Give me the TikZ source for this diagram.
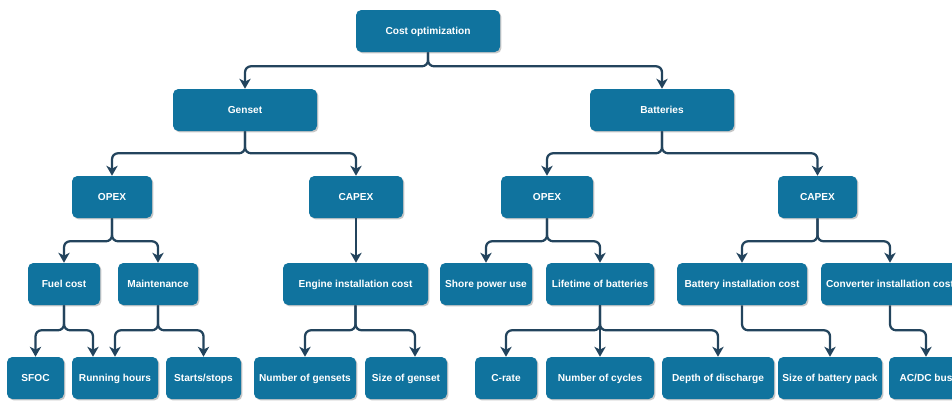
\documentclass[tikz,border=0pt]{standalone}
\usepackage{fontspec}
\setmainfont{Liberation Sans}
\usepackage{xcolor}
\usepackage{tikz}
\usetikzlibrary{arrows.meta,positioning,shadows}

\definecolor{boxblue}{HTML}{10739E}
\definecolor{linkblue}{HTML}{23445D}

\begin{document}
\begin{tikzpicture}[
  x=0.75pt, y=-0.75pt,
  font=\fontsize{7.6pt}{9pt}\selectfont\bfseries,
  box/.style={fill=boxblue, text=white, rounded corners=4pt, align=center,
    minimum width=#1*0.75pt, minimum height=31.5pt, inner sep=0pt,
    text height=6.5pt, text depth=1pt,
    drop shadow={shadow xshift=1.1pt, shadow yshift=-1.1pt, fill=black, opacity=0.22}},
  arrow/.style={-{Stealth[length=7.5pt, width=8.5pt, inset=2.2pt]}, line width=1.7pt,
    draw=linkblue, rounded corners=4.5pt}
]
\useasboundingbox (0,0) rectangle (952,400);

% level 0 and 1
\node[box=144] (costopt) at (428,31) {Cost optimization};
\node[box=144] (genset) at (245,110) {Genset};
\node[box=144] (batteries) at (662,110) {Batteries};

% level 2
\node[box=80] (opexg) at (112,197) {OPEX};
\node[box=94] (capexg) at (356,197) {CAPEX};
\node[box=92] (opexb) at (547,197) {OPEX};
\node[box=79] (capexb) at (817.5,197) {CAPEX};

% level 3
\node[box=72] (fuel) at (64,284) {Fuel cost};
\node[box=80] (maint) at (158,284) {Maintenance};
\node[box=145] (engine) at (355.5,284) {Engine installation cost};
\node[box=92] (shore) at (486,284) {Shore power use};
\node[box=108] (lifetime) at (600,284) {Lifetime of batteries};
\node[box=130] (battinst) at (742,284) {Battery installation cost};
\node[box=138] (conv) at (890,284) {Converter installation cost};

% level 4
\node[box=57] (sfoc) at (35.5,378) {SFOC};
\node[box=86] (running) at (115,378) {Running hours};
\node[box=75] (starts) at (203.5,378) {Starts/stops};
\node[box=102] (ngensets) at (305,378) {Number of gensets};
\node[box=82] (sizegen) at (406,378) {Size of genset};
\node[box=62] (crate) at (506,378) {C-rate};
\node[box=108] (cycles) at (600,378) {Number of cycles};
\node[box=112] (dod) at (718,378) {Depth of discharge};
\node[box=104] (pack) at (830,378) {Size of battery pack};
\node[box=74] (acdc) at (926,378) {AC/DC bus};

% connectors
\draw[arrow] (costopt.south) -- ++(0,14) -| (genset.north);
\draw[arrow] (costopt.south) -- ++(0,14) -| (batteries.north);
\draw[arrow] (genset.south) -- ++(0,22) -| (opexg.north);
\draw[arrow] (genset.south) -- ++(0,22) -| (capexg.north);
\draw[arrow] (batteries.south) -- ++(0,22) -| (opexb.north);
\draw[arrow] (batteries.south) -- ++(0,22) -| (capexb.north);
\draw[arrow] (opexg.south) -- ++(0,23) -| (fuel.north);
\draw[arrow] (opexg.south) -- ++(0,23) -| (maint.north);
\draw[arrow] (capexg.south) -- (engine.north -| capexg.south);
\draw[arrow] (opexb.south) -- ++(0,23) -| (shore.north);
\draw[arrow] (opexb.south) -- ++(0,23) -| (lifetime.north);
\draw[arrow] (capexb.south) -- ++(0,23) -| (battinst.north);
\draw[arrow] (capexb.south) -- ++(0,23) -| (conv.north);
\draw[arrow] (fuel.south) -- ++(0,25) -| (sfoc.north);
\draw[arrow] (fuel.south) -- ++(0,25) -| ([xshift=-16.5pt]running.north);
\draw[arrow] (maint.south) -- ++(0,25) -| (running.north);
\draw[arrow] (maint.south) -- ++(0,25) -| (starts.north);
\draw[arrow] (engine.south) -- ++(0,25) -| (ngensets.north);
\draw[arrow] (engine.south) -- ++(0,25) -| ([xshift=6.75pt]sizegen.north);
\draw[arrow] (lifetime.south) -- ++(0,25) -| (crate.north);
\draw[arrow] (lifetime.south) -- (cycles.north);
\draw[arrow] (lifetime.south) -- ++(0,25) -| (dod.north);
\draw[arrow] (battinst.south) -- ++(0,25) -| (pack.north);
\draw[arrow] (conv.south) -- ++(0,25) -| (acdc.north);
\end{tikzpicture}
\end{document}
